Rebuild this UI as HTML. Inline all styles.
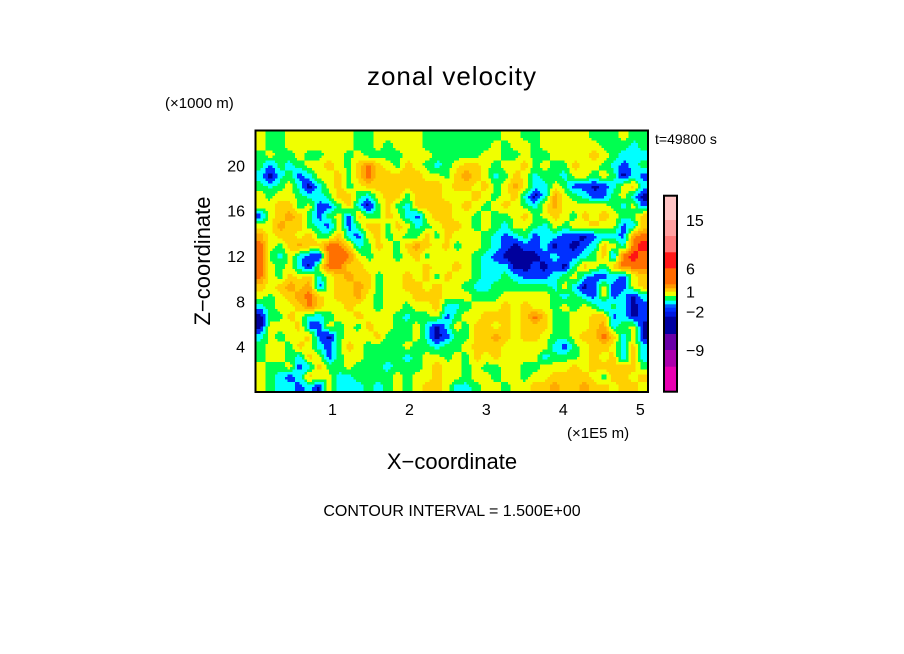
<!DOCTYPE html>
<html><head><meta charset="utf-8"><style>
html,body{margin:0;padding:0;background:#fff;width:904px;height:654px;overflow:hidden}
svg text{font-family:"Liberation Sans","DejaVu Sans",sans-serif;fill:#000}
</style></head><body>
<svg id="chart" width="904" height="654" viewBox="0 0 904 654" xmlns="http://www.w3.org/2000/svg">
<text x="452" y="85" font-size="26" text-anchor="middle" letter-spacing="1">zonal velocity</text>
<text x="165" y="108" font-size="15">(×1000 m)</text>
<text x="655" y="144" font-size="14">t=49800 s</text>
<g id="field" shape-rendering="crispEdges"></g>
<rect x="255.5" y="130.5" width="392.5" height="261.5" fill="none" stroke="#000" stroke-width="2"/>
<g id="yticks"></g>
<g id="xticks"></g>
<text x="567" y="438" font-size="15">(×1E5 m)</text>
<text x="452" y="469" font-size="22" text-anchor="middle">X−coordinate</text>
<text x="0" y="0" font-size="22" text-anchor="middle" transform="translate(210,261) rotate(-90)">Z−coordinate</text>
<g id="cbar"></g>
<text x="452" y="516" font-size="16" text-anchor="middle">CONTOUR INTERVAL = 1.500E+00</text>
</svg>
<script>
// grid rows, top (z high) to bottom, 40 columns each; codes are contour classes
const rowsTop = [
"YGGYYYYYYYGGYYYYYGGGGGGGGYYGGYYYYYGGGYGG",
"YGGYYYYYYYGGYGYYYGGGGGGGYGYYGYYYYYYGGGCG",
"GYGGYGGYYGYGGGGYYYGGGGGYYGGYGGYYYYaYGCCC",
"GBGCGYYaYGaOaYGaYGCGYaaYGYYaGYGGaYYGCBCG",
"CNCGBCYYaGaOaaaaaYYGaoaYCGaYCGGCYYGYGNCB",
"GCGYCNCYaGYaaaaaaaaYaaYaGYoYCCYGBBNBCYaC",
"YGYYGCCGaaGCYaaGaaaYYYaYGYaCNCoYGCBBGYCN",
"YYaaGYBBGaCNGaGCaaaaYaYGYaYGCYoYYYYYGCYB",
"BYaoaGBGYBaGGaYCBYaaYYGYGGYaGYaYGaYaYGGa",
"YYoaaGCBYBGaaGaYCGYaaYGYGCYYGCYGYYaYYBCa",
"oYaaYaGGaCBYaGYGGaGaYYYGCBCGBCCBBNBCCBoO",
"OYGaoaaOOaCGaYGaoaYaGYYGCBNBBCNBNBCaYCOR",
"OGCYCBNOOOYGYYGYaGYYYYGCBNNNNBCBBCGaBORO",
"OYGYCNYOOaaYYYYYYaYYaYGCCCNNBNBNGaYGaOOO",
"OYGaYaCYaoaaGYYaYaGaYYGCCGCBBBCGYCBBCBYa",
"aYaoaoBYaaoaGYYaaYaYYGCCGGGGGGCYCNBYBBYa",
"YGYaoOaYaaoYGYYYaaaYYYGGGYYYYYGCGCBYBCNC",
"CGYYaOaYYaYYGYYGYYaCCGYYYaYaYYGYGYGBGCNB",
"NGGaYCCGYYaYYYGCGGYBGYYaaaYaOaGGYYaaBCNB",
"NYYYaBBYGYGaYYGGYCNCYGaaYaYaaaGGYYaoCGYN",
"CYGYYaBNGYYYaGGGYCNBGGaaoaYaaYGGYaaOaCYN",
"GYYGaYCBGaYGGGGYGGCGGYaaaYYYYYCBGYaaYCaC",
"GYYGCaYBGYYGGGGCGYYGYGaYaYYYYCGGGYaYaBaC",
"YGGYBCaGGYGGGCGGGYaYYGYGGYYGGYYYaYaaaaaG",
"YGCBCaYYCCGGGGYGYYaYYGYYGYYGYYaaaaYGaaYa",
"YGCCBCNYCCCGCGYGYaaYCCGYYGYYaaoaaoaaYaaY"
];
// contour class code -> value in contour-interval units
const classCodes = ["N","B","C","G","Y","a","o","O","R"];
const classValues = [-3,-2,-1,0,1,2,3,4,5];
// colour per level from lowest to highest
const levelColors = ["#00009c","#0030ff","#00ffff","#00ff50","#f0ff00","#ffd000","#ffaa00","#ff7000","#ff1414"];
const xTicks = [1,2,3,4,5];
const yTicks = [4,8,12,16,20];
const xDomain = [0,5.1], zDomain = [0,23.07];
// colorbar level boundaries (top to bottom), colours and labels
const cbarValues = [18,15,12,9,6,4.5,3,1.5,0,-0.5,-1,-1.5,-2,-3,-6,-9,-12,-15];
const cbarColors = ["#ffc4c4","#ffa0a0","#ff7878","#ff1818","#ff6a00","#ff9800","#ffc800","#f0ff00","#00ff50","#00ffff","#0060ff","#0030ff","#0018e0","#0000a0","#6a00a8","#ac00ac","#e800b0"];
const cbarLabels = ["15","6","1","−2","−9"];
const cbarLabelVals = [15,6,1.5,-2,-9];

const PX0=255.5,PX1=648,PY0=392,PY1=130.5;
const xs = v => PX0 + (v-xDomain[0])/(xDomain[1]-xDomain[0])*(PX1-PX0);
const zs = v => PY0 - (v-zDomain[0])/(zDomain[1]-zDomain[0])*(PY0-PY1);
const NS="http://www.w3.org/2000/svg";
function mk(tag, attrs){const e=document.createElementNS(NS,tag);for(const k in attrs)e.setAttribute(k,attrs[k]);return e;}

// numeric grid, then bilinear upsample and re-threshold for smooth contours
const nRows=rowsTop.length, nCols=rowsTop[0].length;
const grid=rowsTop.map(r=>r.split('').map(c=>classValues[classCodes.indexOf(c)]));
function val(fr,fc){
  fr=Math.max(0,Math.min(nRows-1,fr)); fc=Math.max(0,Math.min(nCols-1,fc));
  const r0=Math.floor(fr), c0=Math.floor(fc), r1=Math.min(nRows-1,r0+1), c1=Math.min(nCols-1,c0+1);
  const tr=fr-r0, tc=fc-c0;
  return (grid[r0][c0]*(1-tc)+grid[r0][c1]*tc)*(1-tr)+(grid[r1][c0]*(1-tc)+grid[r1][c1]*tc)*tr;
}
const field=document.getElementById('field');
const UP=4, NR=nRows*UP, NC=nCols*UP;
const dz=(zDomain[1]-zDomain[0])/NR, dx=(xDomain[1]-xDomain[0])/NC;
for(let ri=0;ri<NR;ri++){
  let runStart=0, runCls=null;
  const y0=zs(zDomain[1]-ri*dz), y1=zs(zDomain[1]-(ri+1)*dz);
  for(let ci=0;ci<=NC;ci++){
    let cls=null;
    if(ci<NC){
      const v=val((ri+0.5)/UP-0.5,(ci+0.5)/UP-0.5);
      cls=Math.max(0,Math.min(8,Math.round(v)+3));
    }
    if(cls!==runCls){
      if(runCls!==null){
        const r=mk('rect',{x:xs(runStart*dx).toFixed(2),y:y0.toFixed(2),width:(xs(ci*dx)-xs(runStart*dx)+0.5).toFixed(2),height:(y1-y0+0.5).toFixed(2),fill:levelColors[runCls]});
        
        
        field.appendChild(r);
      }
      runCls=cls; runStart=ci;
    }
  }
}
const yt=document.getElementById('yticks');
yTicks.forEach(t=>{
  const e=mk('text',{x:245,y:zs(t)+6,'font-size':16,'text-anchor':'end'});e.textContent=t;
  
  
  yt.appendChild(e);
});
const xt=document.getElementById('xticks');
xTicks.forEach(t=>{
  const e=mk('text',{x:xs(t),y:415,'font-size':16,'text-anchor':'middle'});e.textContent=t;
  
  
  xt.appendChild(e);
});
const CB0=195.7, CB1=391.7;
const cbEdges=[195.7,220,236,252.3,268.3,284.3,288.3,291.7,296,300.7,304.3,307.7,311.7,316.7,334,350,366.7,391.7];
function cbY(v){
  for(let i=0;i<cbarValues.length-1;i++){
    const a=cbarValues[i], b=cbarValues[i+1];
    if(v<=a && v>=b) return cbEdges[i]+(a-v)/(a-b)*(cbEdges[i+1]-cbEdges[i]);
  }
  return CB1;
}
const cb=document.getElementById('cbar');
cbarColors.forEach((c,i)=>{
  const r=mk('rect',{x:664,y:cbEdges[i],width:13,height:cbEdges[i+1]-cbEdges[i]+0.4,fill:c});
  
  
  cb.appendChild(r);
});
const fr=mk('rect',{x:664,y:CB0,width:13,height:CB1-CB0,fill:'none',stroke:'#000','stroke-width':2});


cb.appendChild(fr);
cbarLabels.forEach((l,i)=>{
  const e=mk('text',{x:686,y:cbY(cbarLabelVals[i])+6,'font-size':16});e.textContent=l;
  
  
  cb.appendChild(e);
});
</script>
</body></html>
